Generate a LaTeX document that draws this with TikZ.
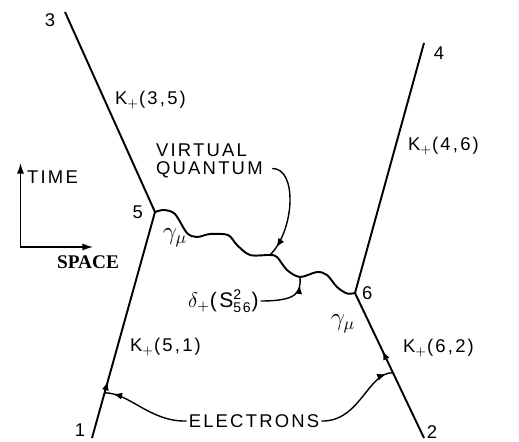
\documentclass[tikz,border=0pt]{standalone}
\usepackage{fontspec}
\setmainfont{Liberation Serif}
\setsansfont{Liberation Sans}[LetterSpace=12]
\usetikzlibrary{arrows.meta,decorations.markings,calc,positioning}

\begin{document}
\begin{tikzpicture}[
    font=\sffamily\fontsize{10.5}{10}\selectfont,
    every node/.style={inner sep=1pt},
    wline/.style={line width=1.1pt},
    pointer/.style={line width=0.8pt},
    flow/.style={postaction={decorate}, decoration={markings, mark=at position #1 with {\arrow{Latex[length=5pt, width=4pt]}}}},
    axisarrow/.style={line width=0.8pt, {Latex[length=6pt, width=4pt]}-{Latex[length=6pt, width=4pt]}}
]
\useasboundingbox (0,0) rectangle (10.38,-8.82);

% space-time points
\coordinate (x3) at (1.30,-0.24);
\coordinate (x5) at (3.10,-4.24);
\coordinate (x1) at (1.84,-8.76);
\coordinate (x4) at (8.48,-0.86);
\coordinate (x6) at (7.10,-5.86);
\coordinate (x2) at (8.48,-8.76);

% electron world lines
\draw[wline] (x3) -- (x5);
\draw[wline, flow=0.25] (x1) -- (x5);
\draw[wline] (x6) -- (x4);
\draw[wline, flow=0.6] (x2) -- (x6);

% virtual quantum
\coordinate (q) at (5.40,-5.10);
\coordinate (s) at (6.00,-5.54);
\draw[wline] plot[smooth, tension=0.5] coordinates {(x5) (3.28,-4.20) (3.50,-4.28) (3.74,-4.66) (3.94,-4.74) (4.20,-4.68) (4.56,-4.70) (4.74,-4.90) (5.00,-5.10) (q) (5.54,-5.14) (5.74,-5.40) (s) (6.34,-5.44) (6.54,-5.50) (6.74,-5.74) (6.94,-5.87) (x6)};

% point labels
\node (l3) at (1.00,-0.40) {3};
\node (l4) at (8.78,-1.06) {4};
\node (l1) at (1.60,-8.60) {1};
\node (l2) at (8.64,-8.64) {2};
\node[left=0.20cm of x5] (l5) {5};
\node[right=0.10cm of x6] (l6) {6};

% propagators
\node[anchor=west] (k35) at (2.26,-2.00) {K$_+$(3,5)};
\node[anchor=west] (k46) at (8.12,-2.92) {K$_+$(4,6)};
\node[anchor=west] (k51) at (2.56,-6.94) {K$_+$(5,1)};
\node[anchor=west] (k62) at (8.02,-6.96) {K$_+$(6,2)};
\node (g5) at (3.50,-4.76) {\Large$\gamma_\mu$};
\node (g6) at (6.86,-6.48) {\Large$\gamma_\mu$};

\node[anchor=west, align=left] (vq) at (3.08,-3.22) {VIRTUAL\\QUANTUM};
\draw[pointer, flow=0.9] ([xshift=0.15cm, yshift=-0.15cm]vq.east) .. controls (5.95,-3.36) and (5.90,-4.60) .. (q);
\node[anchor=west] (dl) at (3.72,-6.02) {\large$\delta_+$(S$^{\mbox{\footnotesize 2}}_{\mbox{\footnotesize 56}}$)};
\draw[pointer, flow=0.85] (dl.east) .. controls (5.95,-6.02) and (6.02,-5.85) .. (s);

\node (el) at (5.08,-8.42) {ELECTRONS};
\draw[pointer, flow=0.9] (el.west) .. controls (3.00,-8.44) and (2.60,-7.86) .. ($(x1)!0.2!(x5)$);
\draw[pointer, flow=0.92] (el.east) .. controls (7.20,-8.44) and (7.36,-7.44) .. ($(x2)!0.45!(x6)$);

% axes
\coordinate (tup) at (0.41,-3.26);
\coordinate (sright) at (1.86,-4.94);
\draw[axisarrow] (tup) |- (sright);
\node[anchor=west] (time) at (0.50,-3.54) {TIME};
\node (space) at (1.76,-5.24) {\rmfamily\bfseries\fontsize{11}{12}\selectfont SPACE};

\end{tikzpicture}
\end{document}
